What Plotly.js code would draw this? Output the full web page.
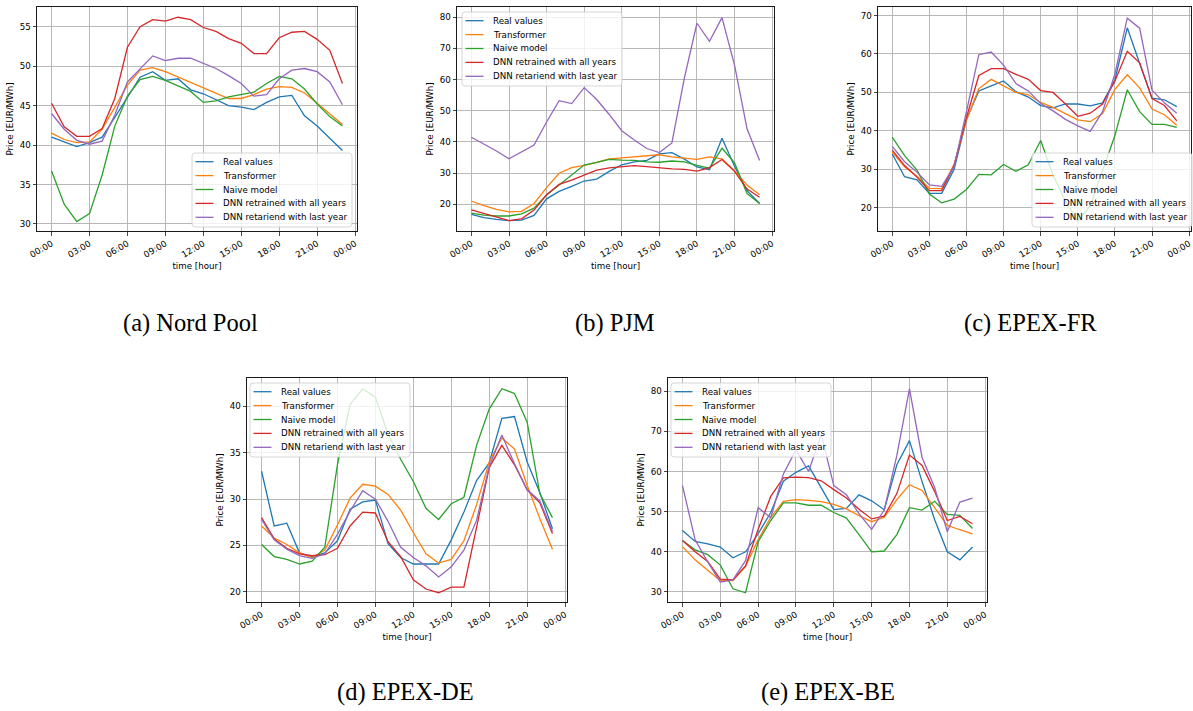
<!DOCTYPE html>
<html>
<head>
<meta charset="utf-8">
<script src="https://cdn.plot.ly/plotly-3.0.1.min.js"></script>
<style>html,body{margin:0;padding:0;background:#fff;}#chart{width:1193px;height:711px;}</style>
</head>
<body>
<div id="chart"></div>
<script>
// ---------- data ----------
const hours = [0,1,2,3,4,5,6,7,8,9,10,11,12,13,14,15,16,17,18,19,20,21,22,23];
const tickVals = [0,3,6,9,12,15,18,21,24];
const tickLabels = ["00:00","03:00","06:00","09:00","12:00","15:00","18:00","21:00","00:00"];
const seriesNames = ["Real values","Transformer","Naive model","DNN retrained with all years","DNN retariend with last year"];
const seriesColors = ["#1f77b4","#ff7f0e","#2ca02c","#d62728","#9467bd"];
const panelCaptions = ["(a) Nord Pool","(b) PJM","(c) EPEX-FR","(d) EPEX-DE","(e) EPEX-BE"];

// (a) Nord Pool
const nordReal  = [41.0,40.4,39.8,40.3,41.0,43.5,46.0,48.6,49.3,48.2,48.4,47.0,46.5,45.8,45.0,44.8,44.5,45.4,46.1,46.3,43.7,42.4,40.9,39.3];
const nordTrans = [41.5,40.7,40.3,40.4,42.0,44.8,47.6,49.5,49.8,49.3,48.6,47.9,47.3,46.5,45.9,45.9,46.4,47.1,47.4,47.3,46.6,45.3,43.9,42.6];
const nordNaive = [36.7,32.5,30.3,31.3,36.2,42.4,46.2,48.3,48.7,48.2,47.5,46.8,45.4,45.6,46.1,46.4,46.7,47.8,48.7,48.4,47.1,45.2,43.6,42.4];
const nordAll   = [45.3,42.3,41.1,41.1,42.1,45.9,52.4,55.0,55.9,55.7,56.2,55.9,54.9,54.4,53.5,52.9,51.6,51.6,53.6,54.3,54.4,53.4,52.0,47.8];
const nordLast  = [44.0,42.0,40.6,40.1,40.5,43.8,48.0,49.6,51.3,50.7,51.0,51.0,50.3,49.7,48.8,47.8,46.2,46.4,48.4,49.5,49.7,49.3,48.0,45.1];

// (b) PJM
const pjmReal  = [16.8,15.8,15.2,14.8,15.0,16.5,21.8,24.2,25.8,27.5,28.1,30.6,32.7,33.6,34.1,36.2,36.6,34.5,32.0,31.1,41.2,32.2,24.4,20.3];
const pjmTrans = [21.1,19.6,18.4,17.6,17.8,20.3,25.4,30.0,31.8,32.5,33.5,34.6,34.9,35.2,35.5,35.9,35.2,34.7,34.4,35.2,34.6,30.8,26.2,23.1];
const pjmNaive = [17.2,16.6,16.3,16.3,17.0,18.8,23.0,26.2,29.2,32.6,33.5,34.4,34.2,34.1,33.6,33.5,33.9,33.6,32.5,31.6,38.0,33.3,23.5,20.3];
const pjmAll   = [18.3,17.1,15.8,14.8,15.4,18.2,23.1,26.4,27.8,29.3,31.0,31.7,32.1,32.4,32.1,31.7,31.4,31.2,30.7,31.8,34.4,30.6,24.9,22.3];
const pjmLast  = [41.5,39.4,37.1,34.6,36.8,39.0,46.4,53.2,52.3,57.4,53.6,48.8,43.6,40.6,37.9,36.6,39.7,60.5,78.0,72.2,79.8,64.6,44.2,34.1];

// (c) EPEX-FR
const frReal  = [34.0,28.1,27.3,23.8,23.8,30.0,43.0,50.4,51.7,53.0,50.2,48.8,46.6,46.0,47.0,47.0,46.5,47.3,53.3,66.8,57.5,48.5,48.1,46.3];
const frTrans = [34.5,30.7,28.2,25.1,25.0,31.3,42.8,51.0,53.4,51.8,50.0,49.4,47.4,46.1,44.6,42.9,42.4,44.5,50.8,54.6,51.2,45.7,44.2,41.5];
const frNaive = [38.4,33.6,29.8,23.6,21.3,22.3,24.8,28.7,28.6,31.3,29.5,31.2,37.5,28.5,21.8,16.5,20.5,29.8,38.8,50.7,45.0,41.7,41.7,40.9];
const frAll   = [35.0,31.0,28.0,24.5,24.5,31.0,43.5,54.4,56.2,56.2,54.7,53.4,50.5,50.0,47.0,43.8,44.6,47.0,53.0,60.7,57.7,48.4,46.6,42.6];
const frLast  = [36.0,32.0,29.3,26.0,25.6,30.7,45.0,59.8,60.5,57.1,52.3,50.4,47.1,45.2,43.0,41.3,39.9,45.0,54.8,69.3,66.7,50.6,47.3,44.6];

// (d) EPEX-DE
const deReal  = [33.0,27.1,27.4,24.2,23.8,24.2,25.5,28.9,29.7,29.9,25.2,23.7,23.0,23.0,23.0,25.6,28.6,32.0,33.9,38.7,38.9,34.0,30.7,26.8];
const deTrans = [27.1,25.8,25.1,24.2,23.7,24.5,27.2,30.1,31.6,31.4,30.5,28.8,26.4,24.1,23.1,23.5,25.5,29.4,34.0,36.6,35.4,31.5,27.9,24.6];
const deNaive = [25.1,23.8,23.5,23.0,23.3,24.8,33.7,40.2,41.9,41.0,37.0,34.3,31.9,29.0,27.8,29.5,30.2,35.8,39.7,41.9,41.4,38.3,30.6,28.0];
const deAll   = [28.0,25.7,24.7,24.1,23.9,24.0,24.7,27.1,28.6,28.5,25.4,23.8,21.3,20.3,19.9,20.5,20.5,26.8,33.4,35.8,33.7,31.0,29.6,26.3];
const deLast  = [27.8,25.6,24.6,23.9,23.6,24.1,26.2,28.7,30.9,30.0,27.6,24.8,23.7,22.8,21.6,22.7,24.5,27.7,33.5,36.9,33.8,31.0,29.8,26.5];

// (e) EPEX-BE
const beReal  = [45.3,42.6,42.0,41.2,38.5,40.0,44.5,49.8,57.6,59.8,61.4,56.0,50.5,50.8,54.2,52.7,50.5,61.7,67.7,57.5,48.0,40.0,38.0,41.2];
const beTrans = [41.3,38.0,35.4,32.8,32.8,36.4,43.0,48.6,52.6,53.0,52.8,52.5,51.8,50.7,49.0,47.5,48.6,53.0,56.7,55.3,51.0,46.6,45.5,44.5];
const beNaive = [42.8,40.5,39.3,36.7,30.8,29.8,42.5,47.8,52.2,52.2,51.6,51.6,49.8,48.4,44.3,40.0,40.2,44.3,51.0,50.4,52.6,49.3,49.1,45.8];
const beAll   = [42.8,40.0,37.6,33.2,33.0,36.5,45.6,53.8,58.4,58.6,58.5,57.7,55.5,53.4,50.6,48.2,48.9,54.5,64.1,61.5,55.0,47.8,48.8,47.0];
const beLast  = [56.5,43.0,37.5,32.5,33.0,37.8,51.0,48.5,59.4,65.4,60.0,69.3,56.5,54.2,49.5,45.6,50.4,64.0,80.6,63.5,56.0,45.0,52.4,53.4];

const panelData = [
  [nordReal,nordTrans,nordNaive,nordAll,nordLast],
  [pjmReal,pjmTrans,pjmNaive,pjmAll,pjmLast],
  [frReal,frTrans,frNaive,frAll,frLast],
  [deReal,deTrans,deNaive,deAll,deLast],
  [beReal,beTrans,beNaive,beAll,beLast]
];
const yTickSteps = [5,10,10,5,10];

// ---------- layout (pixel boxes) ----------
const W = 1193, H = 711;
const boxes = [ // [left, right, top, bottom] in px
  [37, 357, 7, 231],
  [457, 774, 7, 231],
  [878, 1191, 7, 231],
  [247, 567, 378, 602],
  [668, 987, 378, 602]
];
const yRanges = [[29.1,57.5],[11.5,83.2],[14.0,72.2],[18.9,43.06],[27.5,83.3]];
const legendBoxes = [ // left, top (px)
  [192, 153],
  [462, 12],
  [1032, 153],
  [250, 383],
  [671, 383]
];
const LEG_W = 160, LEG_H = 74, LEG_ROW0 = 8.7, LEG_ROW = 13.9;
const captionPos = [[190,323],[615,323],[1030,323],[405,692],[828,692]];

const FONT = 'DejaVu Sans, sans-serif';
const FS = 8.7;
const px = v => v / W;
const py = v => 1 - v / H;

const traces = [];
const layout = {
  width: W, height: H,
  margin: {l:0, r:0, t:0, b:0},
  paper_bgcolor: '#ffffff',
  plot_bgcolor: '#ffffff',
  font: {family: FONT, size: FS, color: '#000'},
  showlegend: false,
  annotations: [],
  shapes: []
};

function roundedRect(l, t, w, h, r) {
  const R = l + w, B = t + h;
  const P = (x, y) => px(x).toFixed(6) + ',' + py(y).toFixed(6);
  return 'M' + P(l + r, t) + ' L' + P(R - r, t) + ' Q' + P(R, t) + ' ' + P(R, t + r) +
         ' L' + P(R, B - r) + ' Q' + P(R, B) + ' ' + P(R - r, B) +
         ' L' + P(l + r, B) + ' Q' + P(l, B) + ' ' + P(l, B - r) +
         ' L' + P(l, t + r) + ' Q' + P(l, t) + ' ' + P(l + r, t) + ' Z';
}

panelData.forEach((series, p) => {
  const idx = p === 0 ? '' : String(p + 1);
  series.forEach((vals, s) => {
    traces.push({
      x: hours, y: vals, type: 'scatter', mode: 'lines',
      name: seriesNames[s],
      line: {color: seriesColors[s], width: 1.3},
      xaxis: 'x' + idx, yaxis: 'y' + idx
    });
  });
  const b = boxes[p];
  const common = {
    showline: true, mirror: true, linecolor: '#1a1a1a', linewidth: 1,
    ticks: 'outside', ticklen: 3.5, tickwidth: 0.8, tickcolor: '#1a1a1a',
    showgrid: true, gridcolor: '#b0b0b0', gridwidth: 0.9,
    zeroline: false,
    tickfont: {family: FONT, size: FS, color: '#000'}
  };
  layout['xaxis' + idx] = Object.assign({}, common, {
    domain: [b[0]/W, b[1]/W],
    anchor: 'y' + idx,
    range: [-1.15, 24.15],
    tickmode: 'array', tickvals: tickVals, ticktext: tickLabels,
    tickangle: -30,
    title: {text: 'time [hour]', font: {family: FONT, size: FS, color: '#000'}, standoff: 4}
  });
  layout['yaxis' + idx] = Object.assign({}, common, {
    domain: [1 - b[3]/H, 1 - b[2]/H],
    anchor: 'x' + idx,
    range: yRanges[p],
    dtick: yTickSteps[p], tick0: 0,
    title: {text: 'Price [EUR/MWh]', font: {family: FONT, size: FS, color: '#000'}, standoff: 4}
  });

  // legend (matplotlib-style box)
  const lb = legendBoxes[p];
  layout.shapes.push({
    type: 'path', xref: 'paper', yref: 'paper', layer: 'above',
    path: roundedRect(lb[0], lb[1], LEG_W, LEG_H, 3),
    fillcolor: 'rgba(255,255,255,0.8)',
    line: {color: '#cccccc', width: 0.8}
  });
  seriesNames.forEach((nm, s) => {
    const yy = lb[1] + LEG_ROW0 + s * LEG_ROW;
    layout.shapes.push({
      type: 'line', xref: 'paper', yref: 'paper', layer: 'above',
      x0: px(lb[0] + 3.5), x1: px(lb[0] + 21.5), y0: py(yy), y1: py(yy),
      line: {color: seriesColors[s], width: 1.3}
    });
    layout.annotations.push({
      text: nm, xref: 'paper', yref: 'paper',
      x: px(lb[0] + 28.5), y: py(yy), xanchor: 'left', yanchor: 'middle',
      showarrow: false, font: {family: FONT, size: FS, color: '#000'}
    });
  });

  const cp = captionPos[p];
  layout.annotations.push({
    text: panelCaptions[p], xref: 'paper', yref: 'paper',
    x: cp[0]/W, y: 1 - cp[1]/H, xanchor: 'center', yanchor: 'middle',
    showarrow: false,
    font: {family: 'Liberation Serif, Times New Roman, serif', size: 24.5, color: '#000'}
  });
});

Plotly.newPlot('chart', traces, layout, {displayModeBar: false, staticPlot: true});
</script>
</body>
</html>
